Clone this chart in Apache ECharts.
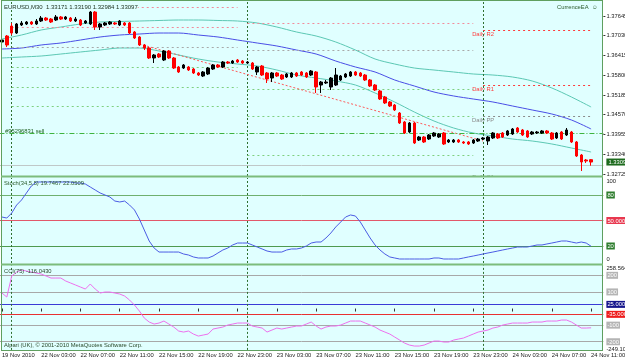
<!DOCTYPE html>
<html><head><meta charset="utf-8">
<script src="https://cdn.jsdelivr.net/npm/echarts@6/dist/echarts.min.js"></script>
<style>html,body{margin:0;padding:0;background:#fff;}#c{width:625px;height:361px;}</style>
</head><body><div id="c"></div>
<script>
// ---------- DATA ----------
// EURUSD M30 candles: [open, close, low, high]
const eurusdM30 = [
[1.36835,1.36897,1.36773,1.36960],[1.37022,1.36742,1.36679,1.37053],[1.37333,1.37115,1.37053,1.37427],[1.37115,1.37396,1.37084,1.37427],
[1.37365,1.37427,1.37333,1.37489],[1.37396,1.37458,1.37365,1.37489],[1.37458,1.37396,1.37365,1.37489],[1.37396,1.37489,1.37365,1.37551],
[1.37489,1.37582,1.37458,1.37645],[1.37582,1.37520,1.37489,1.37614],[1.37551,1.37458,1.37427,1.37582],[1.37520,1.37614,1.37489,1.37676],
[1.37614,1.37551,1.37520,1.37645],[1.37551,1.37614,1.37520,1.37645],[1.37582,1.37489,1.37458,1.37614],[1.37489,1.37551,1.37458,1.37614],
[1.37520,1.37365,1.37333,1.37551],[1.37427,1.37489,1.37396,1.37520],[1.37396,1.37769,1.37365,1.37800],[1.37769,1.37302,1.37209,1.37800],
[1.37302,1.37396,1.37209,1.37427],[1.37365,1.37427,1.37333,1.37458],[1.37396,1.37458,1.37365,1.37489],[1.37427,1.37396,1.37365,1.37458],
[1.37365,1.37489,1.37333,1.37520],[1.37427,1.37365,1.37333,1.37458],[1.37427,1.37115,1.37084,1.37458],[1.37147,1.36960,1.36929,1.37178],
[1.36991,1.36742,1.36711,1.37022],[1.36742,1.36648,1.36586,1.36773],[1.36648,1.36337,1.36306,1.36679],[1.36337,1.36430,1.36181,1.36461],
[1.36461,1.36368,1.36337,1.36493],[1.36275,1.36555,1.36243,1.36586],[1.36555,1.36337,1.36306,1.36586],[1.36337,1.36025,1.35994,1.36368],
[1.36057,1.35901,1.35870,1.36088],[1.36025,1.36119,1.35994,1.36150],[1.36057,1.35963,1.35932,1.36088],[1.35994,1.35870,1.35839,1.36025],
[1.35870,1.35807,1.35776,1.35901],[1.35776,1.35901,1.35745,1.35932],[1.35839,1.36025,1.35807,1.36057],[1.35994,1.36119,1.35963,1.36150],
[1.36119,1.36057,1.36025,1.36150],[1.36057,1.36212,1.36025,1.36243],[1.36212,1.36181,1.36150,1.36243],[1.36181,1.36243,1.36150,1.36275],
[1.36275,1.36212,1.36181,1.36306],[1.36243,1.36181,1.36150,1.36275],[1.36181,1.36212,1.36150,1.36243],[1.36181,1.35994,1.35963,1.36212],
[1.35901,1.36057,1.35807,1.36088],[1.36088,1.35807,1.35776,1.36119],[1.35870,1.35683,1.35558,1.35901],[1.35714,1.35870,1.35589,1.35901],
[1.35870,1.35776,1.35745,1.35901],[1.35807,1.35683,1.35652,1.35839],[1.35745,1.35839,1.35714,1.35870],[1.35745,1.35870,1.35714,1.35901],
[1.35870,1.35776,1.35745,1.35901],[1.35901,1.35807,1.35776,1.35932],[1.35870,1.35745,1.35714,1.35901],[1.35807,1.35932,1.35776,1.35963],
[1.35901,1.35434,1.35247,1.35932],[1.35496,1.35589,1.35247,1.35621],[1.35558,1.35589,1.35527,1.35652],[1.35434,1.35714,1.35340,1.35745],
[1.35496,1.35807,1.35465,1.36025],[1.35652,1.35776,1.35621,1.35807],[1.35745,1.35839,1.35714,1.35870],[1.35776,1.35901,1.35745,1.35932],
[1.35901,1.35807,1.35776,1.35932],[1.35870,1.35776,1.35745,1.35901],[1.35807,1.35652,1.35621,1.35839],[1.35652,1.35465,1.35434,1.35683],
[1.35496,1.35340,1.35309,1.35527],[1.35309,1.35060,1.35029,1.35340],[1.35122,1.34936,1.34904,1.35154],[1.34967,1.34842,1.34811,1.34998],
[1.34873,1.34718,1.34686,1.34904],[1.34624,1.34313,1.34282,1.34655],[1.34344,1.34001,1.33970,1.34375],[1.34032,1.34313,1.34001,1.34344],
[1.34313,1.33690,1.33659,1.34344],[1.33783,1.33877,1.33752,1.33908],[1.33877,1.33721,1.33690,1.33908],[1.33814,1.33939,1.33783,1.33970],
[1.33908,1.34001,1.33877,1.34032],[1.33877,1.33970,1.33846,1.34001],[1.34001,1.33659,1.33628,1.34032],[1.33721,1.33783,1.33690,1.33814],
[1.33721,1.33783,1.33690,1.33814],[1.33783,1.33721,1.33690,1.33814],[1.33721,1.33690,1.33659,1.33752],[1.33721,1.33659,1.33628,1.33752],
[1.33690,1.33783,1.33659,1.33814],[1.33752,1.33814,1.33721,1.33846],[1.33814,1.33846,1.33783,1.33877],[1.33752,1.33877,1.33628,1.33908],
[1.33846,1.34001,1.33814,1.34032],[1.33970,1.33846,1.33814,1.34001],[1.34001,1.33877,1.33846,1.34032],[1.33939,1.34064,1.33908,1.34095],
[1.33970,1.34126,1.33939,1.34157],[1.34157,1.34032,1.34001,1.34188],[1.34095,1.33939,1.33908,1.34126],[1.34064,1.33877,1.33846,1.34095],
[1.33970,1.34032,1.33939,1.34064],[1.34001,1.34032,1.33970,1.34064],[1.34001,1.34064,1.33970,1.34095],[1.34064,1.34001,1.33970,1.34095],
[1.34001,1.33814,1.33783,1.34032],[1.33846,1.34001,1.33814,1.34032],[1.34032,1.33814,1.33783,1.34064],[1.33939,1.34095,1.33908,1.34157],
[1.34032,1.33721,1.33690,1.34064],[1.33721,1.33285,1.33254,1.33752],[1.33316,1.33098,1.32818,1.33347],[1.33160,1.33129,1.33067,1.33192],
[1.33171,1.33097,1.32984,1.33190]
];
// Envelope / MA lines, read every 4 bars: [barIndex, price]
const upperBand = [[0,1.36929],[4,1.37053],[8,1.37209],[12,1.37302],[16,1.37396],[20,1.37458],[24,1.37474],[28,1.37489],[32,1.37505],[36,1.37520],[40,1.37520],[44,1.37505],[48,1.37489],[52,1.37427],[56,1.37302],[60,1.37147],[64,1.37022],[68,1.36835],[72,1.36586],[76,1.36306],[80,1.36150],[84,1.36025],[88,1.35963],[92,1.35901],[96,1.35839],[100,1.35807],[104,1.35745],[108,1.35621],[112,1.35403],[116,1.35122],[120,1.34811]];
const middleMA = [[0,1.36617],[4,1.36648],[8,1.36742],[12,1.36804],[16,1.36897],[20,1.36991],[24,1.37053],[28,1.37084],[32,1.37115],[36,1.37115],[40,1.37053],[44,1.36991],[48,1.36897],[52,1.36804],[56,1.36711],[60,1.36586],[64,1.36461],[68,1.36243],[72,1.36057],[76,1.35901],[80,1.35652],[84,1.35465],[88,1.35278],[92,1.35154],[96,1.35060],[100,1.34967],[104,1.34842],[108,1.34718],[112,1.34593],[116,1.34406],[120,1.34126]];
const lowerBand = [[0,1.36337],[4,1.36368],[8,1.36399],[12,1.36461],[16,1.36524],[20,1.36586],[24,1.36648],[28,1.36648],[32,1.36555],[36,1.36430],[40,1.36306],[44,1.36212],[48,1.36150],[52,1.36088],[56,1.35963],[60,1.35807],[64,1.35714],[68,1.35621],[72,1.35496],[76,1.35247],[80,1.34967],[84,1.34655],[88,1.34375],[92,1.34157],[96,1.34001],[100,1.33908],[104,1.33814],[108,1.33752],[112,1.33659],[116,1.33534],[120,1.33410]];
// Stochastic (34,5,5) main line
const stochMain = [54.1,52.9,58.8,68.2,74.1,82.4,90.6,95.3,95.3,95.3,95.3,95.3,95.3,95.3,95.3,94.1,94.1,92.9,89.4,85.9,
82.4,80.0,77.6,72.9,71.8,72.9,68.2,62.4,51.8,38.8,25.9,17.6,12.9,12.9,12.9,12.9,12.9,10.6,9.4,7.1,
5.9,5.9,5.9,8.2,11.8,15.3,17.6,21.2,23.5,23.5,23.5,21.2,18.8,16.5,14.1,12.9,12.9,12.9,15.3,16.5,
16.5,17.6,20.0,23.5,24.7,24.7,29.4,35.3,42.4,48.2,54.1,56.5,55.3,48.2,38.8,29.4,21.2,15.3,10.6,7.1,
5.9,4.7,4.7,4.7,4.7,4.7,4.7,4.7,5.9,5.9,4.7,4.7,4.7,4.7,5.9,7.1,8.2,9.4,10.6,11.8,
12.9,14.1,15.3,16.5,17.6,18.8,18.8,18.8,20.0,21.2,21.2,22.4,23.5,24.7,25.9,25.9,24.7,23.5,24.7,23.5,19.7];
// CCI(75)
const cci75 = [93.4,69.3,195.8,219.9,231.9,225.9,219.9,213.9,207.8,195.8,183.7,183.7,183.7,165.7,153.6,141.6,129.5,117.5,147.6,117.5,
93.4,99.4,99.4,93.4,87.3,75.3,51.2,21.1,-15.1,-57.2,-81.3,-93.4,-87.3,-75.3,-93.4,-111.4,-135.5,-141.6,-135.5,-153.6,
-165.7,-159.6,-153.6,-123.5,-117.5,-111.4,-99.4,-93.4,-87.3,-87.3,-87.3,-105.4,-111.4,-117.5,-141.6,-129.5,-117.5,-123.5,-117.5,-111.4,
-105.4,-105.4,-93.4,-81.3,-105.4,-123.5,-111.4,-105.4,-105.4,-99.4,-87.3,-75.3,-75.3,-75.3,-87.3,-99.4,-111.4,-129.5,-141.6,-153.6,
-171.7,-189.8,-207.8,-219.9,-225.9,-225.9,-219.9,-207.8,-195.8,-195.8,-201.8,-201.8,-189.8,-183.7,-177.7,-165.7,-153.6,-141.6,-135.5,-129.5,
-117.5,-111.4,-99.4,-93.4,-87.3,-87.3,-87.3,-87.3,-81.3,-81.3,-81.3,-75.3,-75.3,-75.3,-69.3,-69.3,-81.3,-99.4,-117.5,-117.5,-116.043];
// Axis ticks / labels
const priceTicks = [1.32725,1.33340,1.33955,1.34570,1.35185,1.35800,1.36415,1.37030,1.37645];
const bidPrice = 1.33097;
const orderPrice = 1.33950;
const stochTicks = [0,20,50,80,100];
const cciTicks = [-249.108,-200,-100,-35,25,100,200,258.5647];
const cciGrayLevels = [200,100,-100,-200];
const cciBlueLevel = 25, cciRedLevel = -35;
const timeTickLabels = ['19 Nov 2010','22 Nov 03:00','22 Nov 07:00','22 Nov 11:00','22 Nov 15:00','22 Nov 19:00','22 Nov 23:00','23 Nov 03:00','23 Nov 07:00','23 Nov 11:00','23 Nov 15:00','23 Nov 19:00','23 Nov 23:00','24 Nov 03:00','24 Nov 07:00','24 Nov 11:00'];
const daySeparators = [2,50,98];
// daily pivots (per day: start bar, end bar)
const pivotStart = [2,50,98];
const pivotEnd = [48,96,120];
const pivotR2 = [1.37925,null,1.37209];
const pivotR1 = [1.37302,1.37427,1.35496];
const pivotPP = [1.36679,1.36586,1.34531];
const pivotS1 = [1.36057,1.35371,1.32662];
const pivotS2 = [1.35434,1.34531,null];
const pivotS3 = [1.34826,1.33301,null];
const trendLine = [[28,1.36773],[98,1.33752]];

// ---------- CHART ----------
const categories = ['19 Nov 23:00','19 Nov 23:30'];
for (const d of [22,23,24]) for (let h=0;h<24;h++) for (const m of ['00','30'])
  if (categories.length < eurusdM30.length) categories.push(d+' Nov '+String(h).padStart(2,'0')+':'+m);
categories.push('','');

const FONT = "'Liberation Sans'";
const FS = 5.8;
const BAND = 4.91;
const GL = 1.9 - BAND/2, GW = BAND*categories.length;
const BG = '#E0FFFF', FRAME = '#5f9f5f';

const chart = echarts.init(document.getElementById('c'), null, {width:625,height:361});

const xAxisBase = (gi, show) => ({
  type:'category', gridIndex:gi, data:categories, boundaryGap:true,
  axisLine:{show:false}, splitLine:{show:false},
  axisTick:{show:show, interval:(i)=>i%8===0 && i<=120, length:3, lineStyle:{color:'#333'}, alignWithLabel:true},
  axisLabel:{show:show, interval:(i)=>i%8===0 && i<=120, align:'left', margin:2, fontFamily:FONT, fontSize:FS, color:'#1a1a1a',
    formatter:(v,i)=>timeTickLabels[i/8]||''}
});

const priceLabel = v => Math.abs(v-bidPrice)<1e-7 ? '{bid|'+v.toFixed(5)+'}' : v.toFixed(5);
const stochLabel = v => (v===20||v===80) ? '{g|'+v+'}' : v===50 ? '{r|50.0000}' : (v===100?'{t|100}':'{b|0}');
const cciLabel = v => {
  if (v===25) return '{bl|25.0000}';
  if (v===-35) return '{r|-35.0000}';
  if (Math.abs(v)===100||Math.abs(v)===200) return '{gr|'+v+'}';
  return v>0 ? '{t|'+v+'}' : '{b|'+v+'}';
};
const lblBase = {fontFamily:FONT, fontSize:FS, color:'#1a1a1a', margin:3, showMinLabel:true, showMaxLabel:true, hideOverlap:false};

const hSeg = (a,b,p,color,type) => [{coord:[a,p], lineStyle:{color:color,type:type,width:1}},{coord:[b,p]}];
const pivotLines = [];
for (let d=0; d<3; d++) {
  const today = d===2;
  const rc = today?'#ff3b3b':'#f28a9a', pc = today?'#8a8a8a':'#a8a8a8', sc = today?'#3fb43f':'#7fd07f';
  const dash = [2,3];
  if (pivotR2[d]!=null) pivotLines.push(hSeg(pivotStart[d],pivotEnd[d],pivotR2[d],rc,dash));
  if (pivotR1[d]!=null) pivotLines.push(hSeg(pivotStart[d],pivotEnd[d],pivotR1[d],rc,dash));
  if (pivotPP[d]!=null) pivotLines.push(hSeg(pivotStart[d],pivotEnd[d],pivotPP[d],pc,dash));
  if (pivotS1[d]!=null) pivotLines.push(hSeg(pivotStart[d],pivotEnd[d],pivotS1[d],sc,dash));
  if (pivotS2[d]!=null) pivotLines.push(hSeg(pivotStart[d],pivotEnd[d],pivotS2[d],sc,dash));
  if (pivotS3[d]!=null) pivotLines.push(hSeg(pivotStart[d],pivotEnd[d],pivotS3[d],sc,dash));
}
const sepLines = daySeparators.map(i=>({xAxis:i}));
const sepStyle = {color:'#2f6f2f', type:[2,2], width:1};
const richBox = (bg) => ({backgroundColor:bg, color:'#fff', padding:[1,1,0,1], fontFamily:FONT, fontSize:FS});
const richPlain = (pad) => ({padding:pad, fontFamily:FONT, fontSize:FS, color:'#1a1a1a'});

const option = {
  animation:false,
  backgroundColor:'#ffffff',
  grid:[
    {left:GL, top:2, width:GW, height:174, outerBoundsMode:'none', containLabel:false},
    {left:GL, top:178, width:GW, height:85, outerBoundsMode:'none', containLabel:false},
    {left:GL, top:265.6, width:GW, height:84.3, outerBoundsMode:'none', containLabel:false}
  ],
  xAxis:[xAxisBase(0,false), xAxisBase(1,false), xAxisBase(2,true)],
  yAxis:[
    {type:'value', gridIndex:0, position:'right', min:1.32662, max:1.38081, splitLine:{show:false},
     axisLine:{show:false}, axisTick:{show:true,length:2,customValues:priceTicks,lineStyle:{color:'#333'}},
     axisLabel:Object.assign({}, lblBase, {customValues:priceTicks.concat([bidPrice]), formatter:priceLabel,
       rich:{bid:Object.assign(richBox('#1d6b1d'),{padding:[1,2,0,2]})}})},
    {type:'value', gridIndex:1, position:'right', min:0, max:100, splitLine:{show:false},
     axisLine:{show:false}, axisTick:{show:false},
     axisLabel:Object.assign({}, lblBase, {customValues:stochTicks, formatter:stochLabel,
       rich:{g:richBox('#2e7d2e'), r:richBox('#e8384f'), t:richPlain([6,0,0,0]), b:richPlain([0,0,7,0])}})},
    {type:'value', gridIndex:2, position:'right', min:-249.108, max:258.5647, splitLine:{show:false},
     axisLine:{show:false}, axisTick:{show:false},
     axisLabel:Object.assign({}, lblBase, {customValues:cciTicks, formatter:cciLabel,
       rich:{gr:richBox('#b4b4b4'), bl:richBox('#16168c'), r:richBox('#ee1c1c'), t:richPlain([6,0,0,0]), b:richPlain([0,0,2,0])}})}
  ],
  series:[
    {type:'line', xAxisIndex:0, yAxisIndex:0, data:upperBand, showSymbol:false, smooth:0.3, lineStyle:{color:'#5cc8b4', width:1}, z:3},
    {type:'line', xAxisIndex:0, yAxisIndex:0, data:middleMA, showSymbol:false, smooth:0.3, lineStyle:{color:'#4a4ee6', width:1}, z:3},
    {type:'line', xAxisIndex:0, yAxisIndex:0, data:lowerBand, showSymbol:false, smooth:0.3, lineStyle:{color:'#5cc8b4', width:1}, z:3},
    {type:'candlestick', xAxisIndex:0, yAxisIndex:0, data:eurusdM30, barWidth:3, z:5,
     itemStyle:{color:'#000000', color0:'#ff0000', borderColor:'#000000', borderColor0:'#ff0000', borderWidth:1},
     markLine:{silent:true, symbol:['none','none'], label:{show:false}, animation:false,
       data:[].concat(
         sepLines.map(s=>Object.assign({lineStyle:sepStyle}, s)),
         pivotLines,
         [[{coord:trendLine[0], lineStyle:{color:'#ff5a5a', type:[2,2], width:1}},{coord:trendLine[1]}]],
         [{yAxis:orderPrice, lineStyle:{color:'#3fb43f', type:[5,2,1,2], width:1}}],
         [{yAxis:bidPrice, lineStyle:{color:'#c0c8c8', type:'solid', width:1}}]
       )}},
    {type:'line', xAxisIndex:1, yAxisIndex:1, data:stochMain, showSymbol:false, lineStyle:{color:'#4c5ce4', width:1}, z:5,
     markLine:{silent:true, symbol:['none','none'], label:{show:false},
       data:[
         {yAxis:80, lineStyle:{color:'#6fb06f', type:'solid', width:1}},
         {yAxis:50, lineStyle:{color:'#e2586a', type:'solid', width:1}},
         {yAxis:20, lineStyle:{color:'#4f9a4f', type:'solid', width:1}}
       ].concat(sepLines.map(s=>Object.assign({lineStyle:sepStyle}, s)))}},
    {type:'line', xAxisIndex:2, yAxisIndex:2, data:cci75, showSymbol:false, lineStyle:{color:'#ee70ee', width:1}, z:5,
     markLine:{silent:true, symbol:['none','none'], label:{show:false},
       data:cciGrayLevels.map(v=>({yAxis:v, lineStyle:{color:'#a8a8a8', type:'solid', width:1}})).concat([
         {yAxis:cciBlueLevel, lineStyle:{color:'#3a3ad6', type:'solid', width:1}},
         {yAxis:cciRedLevel, lineStyle:{color:'#e83030', type:'solid', width:1}}
       ]).concat(sepLines.map(s=>Object.assign({lineStyle:sepStyle}, s)))}}
  ]
};
chart.setOption(option);

// ---------- decorations (panels, frame, texts) ----------
const px = (g, x, y) => chart.convertToPixel({xAxisIndex:g, yAxisIndex:g}, [x, y]);
const txt = (x,y,t,o,z) => ({type:'text', z:(z==null?60:z), style:Object.assign({x:x, y:y, text:t, fill:'#1f3a1f', font:FS+'px '+FONT, textVerticalAlign:'middle'}, o||{})});
const els = [
  {type:'rect', z:-100, shape:{x:1,y:1,width:601,height:175}, style:{fill:BG}},
  {type:'rect', z:-40, shape:{x:1,y:177,width:601,height:87}, style:{fill:BG}},
  {type:'rect', z:-40, shape:{x:1,y:265,width:601,height:85}, style:{fill:BG}},
  {type:'line', z:100, shape:{x1:1.5,y1:0,x2:1.5,y2:350.5}, style:{stroke:FRAME, lineWidth:1}},
  {type:'line', z:100, shape:{x1:602.5,y1:0,x2:602.5,y2:350.5}, style:{stroke:FRAME, lineWidth:1}},
  {type:'line', z:100, shape:{x1:1,y1:0.5,x2:603,y2:0.5}, style:{stroke:FRAME, lineWidth:1}},
  {type:'line', z:100, shape:{x1:1,y1:176.5,x2:603,y2:176.5}, style:{stroke:'#7cbc7c', lineWidth:2}},
  {type:'line', z:100, shape:{x1:1,y1:264.5,x2:603,y2:264.5}, style:{stroke:'#7cbc7c', lineWidth:2}},
  {type:'line', z:100, shape:{x1:1,y1:350.5,x2:603,y2:350.5}, style:{stroke:FRAME, lineWidth:1}},
  txt(4,7,'EURUSD,M30  1.33171 1.33190 1.32984 1.33097', {backgroundColor:BG, fill:'#1a2e1a', font:'6px '+FONT}),
  txt(557,7,'CurrenceEA  \u263A', {fill:'#2a5a2a'}),
  txt(4,183,'Stoch(34,5,5) 19.7467 22.0509', {fill:'#2a5a2a'}),
  txt(4,271,'CCI(75) -116.0430', {fill:'#2a4a2a'}),
  txt(4,345,'Alpari (UK), \u00A9 2001-2010 MetaQuotes Software Corp.', {fill:'#2a4a2a'})
];
const ord = px(0, 0, orderPrice);
els.push(txt(5, ord[1]-3, '#95296831 sell', {fill:'#1f5f1f'}));
const dailyNames = [['Daily R2',pivotR2[2],'#ff3b3b',4],['Daily R1',pivotR1[2],'#ff3b3b',4],['Daily PP',pivotPP[2],'#8a8a8a',4],['Daily S1',pivotS1[2],'#7a9a7a',1]];
dailyNames.forEach(([n,p,c,dy])=>{ const q = px(0, pivotStart[2], p); els.push(txt(q[0], q[1]+dy, n, {fill:c, textAlign:'center'}, -50)); });
chart.setOption({graphic:{elements:els}});
</script>
</body></html>
